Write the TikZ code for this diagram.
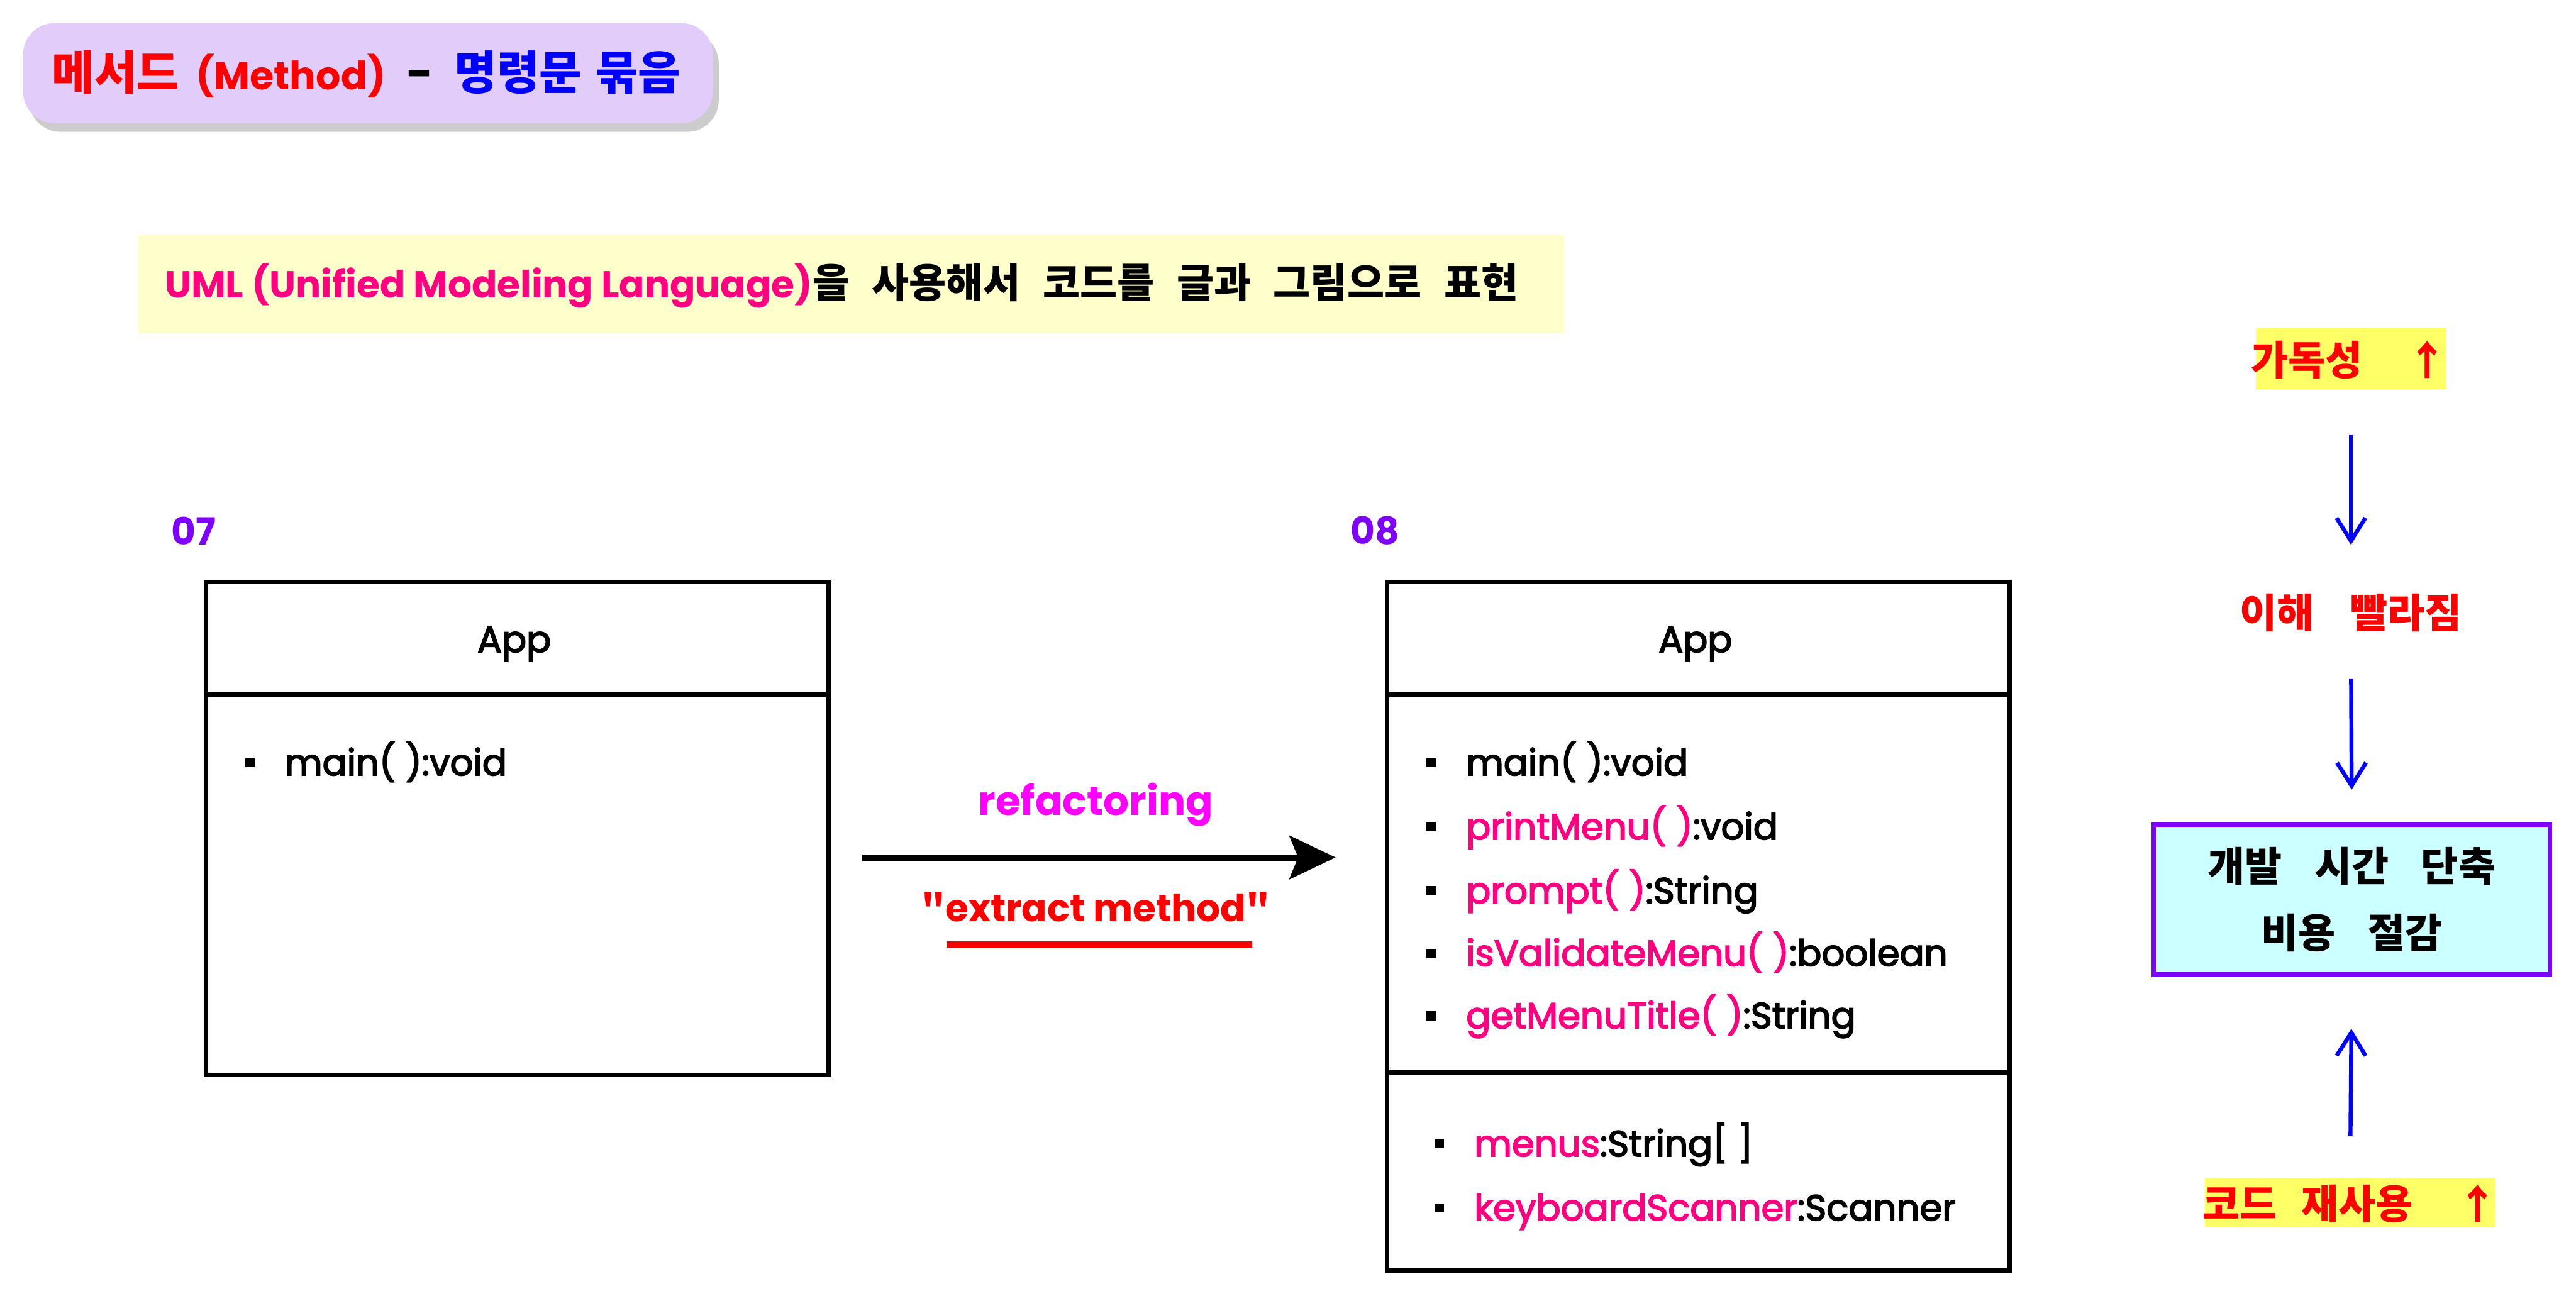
\documentclass[tikz,border=0pt]{standalone}
\usepackage{fontspec}
\setmainfont{Poppins}
\newfontfamily\medfont{Poppins}[FakeBold=3]
\newfontfamily\kr{Noto Sans CJK KR}
\usetikzlibrary{arrows.meta,shadows}
\definecolor{lav}{HTML}{E2CCFA}
\definecolor{bannerY}{HTML}{FFFFCC}
\definecolor{hotpink}{HTML}{FF0080}
\definecolor{violet}{HTML}{8000FF}
\definecolor{magen}{HTML}{FF00FF}
\definecolor{hlY}{HTML}{FFFF66}
\definecolor{cyanbox}{HTML}{CCFFFF}
\newcommand\bul{\rule[0.22em]{3.2pt}{3.2pt}\hspace{10.5pt}}
\newcommand\ksp{\hspace{0.55em}}
\begin{document}
\begin{tikzpicture}[x=0.02cm,y=-0.02cm,
  lat/.style={font=\medfont\fontsize{12.6}{15}\selectfont, inner sep=0pt, anchor=base west},
  boxline/.style={line width=1.6pt},
  umlbox/.style={draw, line width=1.6pt, minimum width=7.58cm, anchor=north west, inner sep=0pt},
  kor/.style={font=\kr\bfseries\fontsize{14}{23}\selectfont, inner sep=0pt},
  hl/.style={fill=hlY, inner sep=0pt},
  barrow/.style={blue, line width=1.4pt, -{Straight Barb[length=8pt,width=10pt,line width=1.4pt]}}
]
\useasboundingbox (0,0) rectangle (1568,792);

% title
\node (title) [fill=lav, rounded corners=11pt, minimum width=8.4cm, minimum height=1.22cm,
  drop shadow={shadow xshift=2pt, shadow yshift=-3pt, fill=black, opacity=.2}] at (224,44.5) {};
\node (titletext) [inner sep=0pt, font=\fontsize{16}{18}\selectfont] at (223,45)
  {\textcolor{red}{\kr\bfseries 메서드}\hspace{0.35em}\textcolor{red}{\bfseries\fontsize{13.5}{16}\selectfont(Method)}\hspace{0.45em}\textbf{-}\hspace{0.45em}\textcolor{blue}{\kr\bfseries 명령문\hspace{0.3em}묶음}};

% banner
\node (banner) [fill=bannerY, minimum width=17.36cm, minimum height=1.2cm, inner sep=0pt] at (518,173) {};
\node (bannertext) [inner sep=0pt, anchor=west, font=\fontsize{13}{16}\selectfont] at (100,174)
  {\textcolor{hotpink}{\bfseries UML (Unified Modeling Language)}{\kr\bfseries\fontsize{14}{16}\selectfont 을\ksp 사용해서\ksp 코드를\ksp 글과\ksp 그림으로\ksp 표현}};

% labels
\node (n07) [inner sep=0pt, text=violet, font=\bfseries\fontsize{13}{16}\selectfont] at (118,323) {07};
\node (n08) [inner sep=0pt, text=violet, font=\bfseries\fontsize{13}{16}\selectfont] at (837,323) {08};

% left box
\node (appL) [umlbox, minimum height=6cm] at (124,353) {};
\draw[boxline] ([yshift=-1.4cm]appL.north west) -- ([yshift=-1.4cm]appL.north east);
\node (appLname) [lat, anchor=base] at (313,397) {App};
\node (mainL) [lat] at (149,472) {\bul main( ):void};

% right box
\node (appR) [umlbox, minimum height=8.38cm] at (843,353) {};
\draw[boxline] ([yshift=-1.4cm]appR.north west) -- ([yshift=-1.4cm]appR.north east);
\draw[boxline] ([yshift=-6cm]appR.north west) -- ([yshift=-6cm]appR.north east);
\node (appRname) [lat, anchor=base] at (1032,397) {App};
\node (m1) [lat] at (868,472) {\bul main( ):void};
\node (m2) [lat] at (868,511) {\bul\textcolor{hotpink}{printMenu( )}:void};
\node (m3) [lat] at (868,550) {\bul\textcolor{hotpink}{prompt( )}:String};
\node (m4) [lat] at (868,588) {\bul\textcolor{hotpink}{isValidateMenu( )}:boolean};
\node (m5) [lat] at (868,626) {\bul\textcolor{hotpink}{getMenuTitle( )}:String};
\node (f1) [lat] at (873,704) {\bul\textcolor{hotpink}{menus}:String[ ]};
\node (f2) [lat] at (873,743) {\bul\textcolor{hotpink}{keyboardScanner}:Scanner};

% refactoring arrow
\coordinate (ra1) at (525,522);
\coordinate (ra2) at (813,522);
\draw[line width=2.2pt, -{Stealth[length=16pt,width=15pt,inset=3pt]}] (ra1) -- (ra2);
\node (refac) [inner sep=0pt, text=magen, font=\bfseries\fontsize{14}{16}\selectfont] at (667,490) {refactoring};
\node (extr) [inner sep=0pt, text=red, font=\bfseries\fontsize{13}{16}\selectfont] at (667,552) {{\kr"}extract method{\kr"}};
\coordinate (ul1) at (576,575);
\coordinate (ul2) at (762,575);
\draw[red, line width=2pt] (ul1) -- (ul2);

% right column
\node (read) [hl, minimum width=2.32cm, minimum height=0.74cm] at (1431,218.5) {};
\node (readtext) [kor, text=red] at (1430,219) {가독성\hspace{1.1em}↑};
\node (under) [kor, text=red, minimum height=0.8cm] at (1431,373) {이해\hspace{0.9em}빨라짐};
\node (cost) [draw=violet, line width=1.5pt, fill=cyanbox, minimum width=4.82cm, minimum height=1.82cm, inner sep=0pt] at (1431.5,547.5) {};
\node (costtext) [kor, align=center] at (1431.5,547.5) {개발\hspace{0.8em}시간\hspace{0.8em}단축\\비용\hspace{0.8em}절감};
\node (reuse) [hl, minimum width=3.54cm, minimum height=0.6cm] at (1430.5,732) {};
\node (reusetext) [kor, text=red] at (1430.5,733) {코드\hspace{0.6em}재사용\hspace{1.1em}↑};

\draw[barrow, shorten <=0.54cm, shorten >=0.42cm] (read.south) -- (under.north);
\draw[barrow, shorten <=0.4cm, shorten >=0.4cm] (under.south) -- (cost.north);
\draw[barrow, shorten <=0.5cm, shorten >=0.64cm] (reuse.north) -- (cost.south);
\end{tikzpicture}
\end{document}
